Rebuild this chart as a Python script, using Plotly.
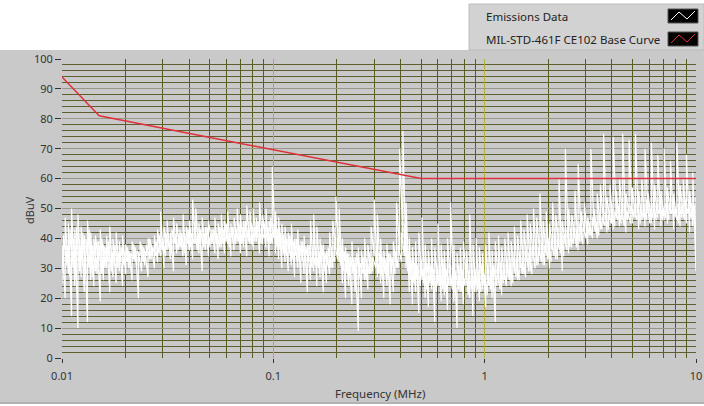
import numpy as np
import plotly.graph_objects as go

# canvas and plot area (pixels)
W, H = 704, 406
L, R, T, B = 62, 8, 59, 48

# emissions sweep, 10 kHz - 10 MHz, 200 log spaced bins (min / max per bin, dBuV)
freq_mhz = np.logspace(-2, 1, 200)
# second sweep pass, offset by half a bin
freq2_mhz = freq_mhz * 10 ** (3 / 199 / 2)

emis_hi = [
    38, 47, 45, 50, 43, 48, 44, 41, 46, 42,
    40, 39, 43, 38, 41, 44, 40, 42, 39, 41,
    38, 36, 39, 37, 35, 38, 36, 40, 38, 41,
    43, 49, 44, 46, 42, 47, 45, 43, 48, 44,
    46, 53, 50, 45, 47, 44, 46, 43, 47, 45,
    48, 46, 49, 45, 47, 50, 48, 46, 51, 49,
    50, 47, 52, 48, 50, 46, 64, 49, 47, 45,
    44, 42, 45, 40, 43, 39, 41, 38, 46, 48,
    44, 40, 38, 36, 42, 46, 54, 50, 40, 37,
    35, 39, 34, 37, 36, 40, 38, 44, 53, 48,
    40, 36, 38, 35, 39, 52, 70, 76, 52, 40,
    37, 39, 42, 47, 38, 36, 40, 37, 45, 38,
    36, 40, 52, 38, 35, 37, 39, 36, 48, 38,
    40, 37, 35, 38, 42, 36, 39, 41, 37, 40,
    42, 39, 44, 41, 46, 43, 48, 45, 50, 47,
    55, 46, 49, 45, 52, 48, 60, 46, 70, 50,
    48, 56, 65, 49, 52, 47, 70, 50, 55, 58,
    75, 54, 58, 74, 56, 60, 75, 55, 73, 57,
    75, 56, 60, 70, 55, 72, 58, 68, 56, 70,
    57, 66, 55, 72, 58, 60, 68, 56, 62, 54,
]

emis_lo = [
    25, 20, 28, 14, 24, 10, 27, 22, 12, 26,
    24, 28, 19, 26, 30, 22, 27, 25, 29, 24,
    28, 30, 26, 32, 20, 29, 31, 27, 33, 30,
    32, 34, 30, 36, 33, 29, 35, 37, 34, 31,
    36, 33, 38, 35, 29, 36, 34, 38, 35, 33,
    37, 35, 38, 34, 36, 39, 35, 37, 34, 38,
    36, 39, 35, 38, 37, 34, 38, 35, 33, 30,
    32, 29, 31, 27, 30, 25, 28, 22, 26, 29,
    24, 27, 22, 25, 28, 30, 36, 32, 25, 20,
    24, 18, 22, 9, 20, 26, 23, 28, 34, 27,
    25, 20, 24, 18, 22, 30, 36, 40, 30, 22,
    18, 22, 15, 26, 20, 17, 23, 12, 24, 19,
    21, 16, 24, 19, 10, 22, 18, 25, 20, 14,
    22, 19, 23, 17, 24, 20, 12, 25, 21, 26,
    27, 24, 29, 26, 30, 28, 32, 29, 33, 31,
    34, 31, 35, 30, 36, 33, 37, 29, 38, 35,
    37, 40, 36, 39, 42, 38, 41, 44, 40, 43,
    45, 42, 46, 43, 47, 44, 46, 42, 48, 45,
    47, 43, 46, 44, 48, 45, 43, 47, 44, 46,
    45, 48, 43, 46, 44, 47, 45, 42, 44, 29,
]

emis2_hi = [
    41, 38, 43, 40, 44, 39, 42, 40, 43, 38,
    41, 39, 40, 37, 39, 36, 38, 35, 37, 36,
    37, 35, 38, 36, 39, 37, 38, 40, 37, 39,
    41, 40, 42, 39, 43, 41, 40, 42, 41, 43,
    42, 44, 41, 43, 42, 44, 41, 43, 42, 44,
    43, 45, 42, 44, 43, 45, 44, 46, 43, 45,
    44, 46, 43, 45, 44, 47, 45, 43, 42, 41,
    40, 41, 39, 40, 38, 39, 37, 38, 36, 37,
    36, 38, 35, 37, 36, 39, 40, 38, 36, 35,
    34, 33, 35, 32, 34, 33, 35, 34, 36, 35,
    34, 33, 35, 34, 36, 38, 42, 45, 36, 33,
    32, 31, 33, 30, 32, 31, 30, 32, 31, 33,
    30, 32, 31, 29, 31, 30, 32, 29, 31, 30,
    29, 31, 28, 30, 29, 31, 30, 32, 31, 33,
    32, 34, 33, 35, 34, 36, 35, 37, 38, 37,
    39, 38, 40, 39, 41, 40, 42, 41, 43, 42,
    44, 43, 45, 44, 46, 45, 47, 46, 48, 47,
    49, 48, 50, 49, 51, 50, 52, 49, 51, 50,
    52, 50, 51, 53, 50, 52, 51, 53, 50, 52,
    51, 53, 50, 52, 51, 53, 50, 52, 51, 44,
]

emis2_lo = [
    28, 31, 27, 30, 26, 29, 31, 28, 30, 27,
    29, 31, 28, 30, 32, 29, 31, 30, 32, 31,
    32, 30, 33, 31, 34, 32, 34, 33, 35, 34,
    35, 36, 34, 37, 35, 38, 36, 37, 35, 38,
    37, 38, 36, 39, 37, 38, 37, 39, 38, 37,
    38, 39, 37, 40, 38, 39, 38, 40, 39, 38,
    39, 40, 38, 40, 39, 38, 40, 37, 36, 35,
    34, 35, 33, 34, 32, 33, 31, 32, 30, 31,
    30, 31, 29, 31, 30, 32, 33, 31, 29, 28,
    27, 28, 26, 27, 28, 26, 28, 29, 30, 28,
    27, 28, 26, 29, 28, 30, 32, 34, 29, 26,
    25, 26, 24, 25, 23, 25, 24, 22, 24, 23,
    22, 24, 23, 21, 23, 22, 24, 21, 23, 22,
    23, 22, 24, 21, 23, 22, 24, 23, 25, 24,
    26, 25, 27, 26, 28, 27, 29, 28, 30, 31,
    32, 31, 33, 32, 34, 33, 35, 34, 36, 37,
    38, 37, 39, 38, 40, 41, 40, 42, 41, 43,
    44, 43, 45, 44, 46, 45, 44, 46, 45, 47,
    46, 45, 47, 46, 45, 47, 46, 48, 46, 47,
    46, 48, 47, 45, 47, 46, 48, 47, 45, 30,
]

# MIL-STD-461F CE102 basic curve
limit_f = [0.01, 0.015, 0.5, 10]
limit_db = [94, 81, 60, 60]

x_ticks = [0.01, 0.1, 1, 10]
x_labels = ["0.01", "0.1", "1", "10"]

legend_names = ["Emissions Data", "MIL-STD-461F CE102 Base Curve"]
legend_colors = ["#ffffff", "#e0303a"]

FONT = "Noto Sans"


def px(x):
    return (x - L) / (W - L - R)


def py(y):
    return (H - B - y) / (H - T - B)


def zigzag(f, lo, hi):
    # min/max of each bin drawn as one continuous trace
    return np.repeat(f, 2), np.column_stack([lo, hi]).ravel()


fig = go.Figure()
for f, lo, hi in [(freq2_mhz, emis2_lo, emis2_hi), (freq_mhz, emis_lo, emis_hi)]:
    xs, ys = zigzag(f, lo, hi)
    fig.add_trace(go.Scatter(x=xs, y=ys, mode="lines",
                             line=dict(color="#ffffff", width=1.2), hoverinfo="skip"))
fig.add_trace(go.Scatter(x=limit_f, y=limit_db, mode="lines",
                         line=dict(color=legend_colors[1], width=1.5), hoverinfo="skip"))

fig.update_layout(
    width=W, height=H,
    margin=dict(l=L, r=R, t=T, b=B),
    paper_bgcolor="#ffffff",
    plot_bgcolor="#000000",
    showlegend=False,
    font=dict(family=FONT, size=11, color="#333333"),
)

fig.update_xaxes(
    type="log", range=[-2, 1], automargin=False,
    tickvals=x_ticks, ticktext=x_labels, ticklabelstandoff=4,
    ticks="outside", ticklen=4, tickcolor="#333333",
    showgrid=True, gridcolor="#b0b040", gridwidth=1,
    minor=dict(dtick="D1", showgrid=True, gridcolor="#5a5a1e", ticks=""),
    zeroline=False, showline=False,
)
fig.update_yaxes(
    range=[0, 100], dtick=10, automargin=False,
    ticks="outside", ticklen=6, tickcolor="#333333",
    showgrid=True, gridcolor="#96968a", gridwidth=1,
    minor=dict(dtick=2, showgrid=True, gridcolor="#5e5e2e", ticks=""),
    zeroline=False, showline=False,
)

shapes = [
    # grey panel behind the graph
    dict(type="rect", xref="paper", yref="paper", layer="below",
         x0=px(0), x1=px(W), y0=py(404), y1=py(50),
         fillcolor="#c9c9c9", line=dict(width=0)),
    dict(type="line", xref="paper", yref="paper", layer="below",
         x0=px(0), x1=px(W), y0=py(403), y1=py(403),
         line=dict(color="#9a9a9a", width=1)),
    # legend box
    dict(type="rect", xref="paper", yref="paper",
         x0=px(469), x1=px(W), y0=py(50), y1=py(4),
         fillcolor="#d2d2d2", line=dict(color="#bcbcbc", width=1)),
]

annotations = [
    dict(text="Frequency (MHz)", xref="paper", yref="paper",
         x=px(380), y=py(393), xanchor="center", yanchor="middle",
         showarrow=False, font=dict(size=11.5, color="#333333")),
    dict(text="dBuV", xref="paper", yref="paper", textangle=-90,
         x=px(29), y=py(210), xanchor="center", yanchor="middle",
         showarrow=False, font=dict(size=11, color="#333333")),
]

row_y = [16, 39]
for name, color, yc in zip(legend_names, legend_colors, row_y):
    annotations.append(dict(text=name, xref="paper", yref="paper",
                            x=px(484), y=py(yc), xanchor="left", yanchor="middle",
                            showarrow=False, font=dict(size=11.5, color="#222222")))
    shapes.append(dict(type="rect", xref="paper", yref="paper",
                       x0=px(668), x1=px(698), y0=py(yc + 7), y1=py(yc - 7),
                       fillcolor="#000000", line=dict(color="#555555", width=1)))
    path = "M {} {} L {} {} L {} {} L {} {}".format(
        px(671), py(yc + 4), px(679), py(yc - 4),
        px(687), py(yc + 3), px(695), py(yc - 5))
    shapes.append(dict(type="path", xref="paper", yref="paper", path=path,
                       line=dict(color=color, width=1)))

fig.update_layout(shapes=shapes, annotations=annotations)

# page body margin would push the 704x406 figure off the window edge
fig.write_html("out.html", config={"displayModeBar": False},
               post_script="document.body.style.margin = '0';")
